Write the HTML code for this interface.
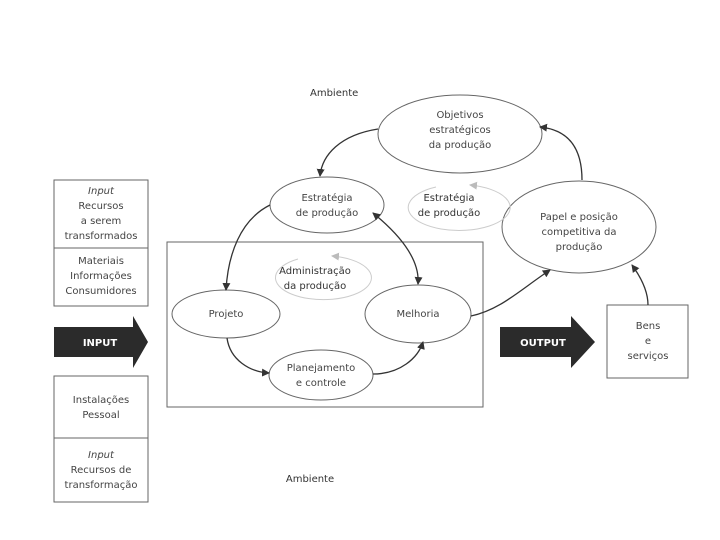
<!DOCTYPE html>
<html><head><meta charset="utf-8"><style>
html,body{margin:0;padding:0;background:#fff}
svg{display:block}
text{font-family:"DejaVu Sans","Liberation Sans",sans-serif;font-size:10px;fill:#444;text-anchor:middle}
</style></head><body>
<svg width="720" height="540" viewBox="0 0 720 540" xmlns="http://www.w3.org/2000/svg">
<defs>
<marker id="a" markerWidth="8" markerHeight="8" refX="7" refY="4" orient="auto" markerUnits="userSpaceOnUse"><path d="M0,0 L8,4 L0,8 z" fill="#333"/></marker>
<marker id="s" markerWidth="8" markerHeight="8" refX="1" refY="4" orient="auto" markerUnits="userSpaceOnUse"><path d="M8,0 L0,4 L8,8 z" fill="#333"/></marker>
<marker id="g" markerWidth="8" markerHeight="8" refX="7" refY="4" orient="auto" markerUnits="userSpaceOnUse"><path d="M0,0 L8,4 L0,8 z" fill="#bbb"/></marker>
</defs>
<g fill="none" stroke="#666" stroke-width="1">
<rect x="54" y="180" width="94" height="126"/><line x1="54" y1="248" x2="148" y2="248"/>
<rect x="54" y="376" width="94" height="126"/><line x1="54" y1="438" x2="148" y2="438"/>
<rect x="167" y="242" width="316" height="165"/>
<rect x="607" y="305" width="81" height="73"/>
<ellipse cx="460" cy="134" rx="82" ry="39"/>
<ellipse cx="327" cy="205" rx="57" ry="28"/>
<ellipse cx="579" cy="227" rx="77" ry="46"/>
<ellipse cx="226" cy="314" rx="54" ry="24"/>
<ellipse cx="418" cy="314" rx="53" ry="29"/>
<ellipse cx="321" cy="375" rx="52" ry="25"/>
</g>
<g fill="none" stroke="#ccc" stroke-width="1">
<path d="M436,187 A51,23 0 1 0 470,185" marker-end="url(#g)"/>
<path d="M298,259 A48,22 0 1 0 332,256" marker-end="url(#g)"/>
</g>
<g fill="none" stroke="#333" stroke-width="1.3">
<path d="M378,129 C340,135 322,155 320,176" marker-end="url(#a)"/>
<path d="M270,205 C240,220 228,255 226,290" marker-end="url(#a)"/>
<path d="M373,213 C400,235 420,260 418,284" marker-start="url(#s)" marker-end="url(#a)"/>
<path d="M227,338 C230,360 250,372 269,373" marker-end="url(#a)"/>
<path d="M373,374 C400,374 418,358 423,342" marker-end="url(#a)"/>
<path d="M471,316 C500,310 520,290 550,270" marker-end="url(#a)"/>
<path d="M582,180 C582,150 570,130 540,127" marker-end="url(#a)"/>
<path d="M648,305 C648,290 640,276 632,265" marker-end="url(#a)"/>
</g>
<path d="M54,327 H133 V316 L148,342 L133,368 V357 H54 z" fill="#2b2b2b"/>
<path d="M500,327 H571 V316 L595,342 L571,368 V357 H500 z" fill="#2b2b2b"/>
<text x="100" y="346" style="fill:#fff;font-weight:bold">INPUT</text>
<text x="543" y="346" style="fill:#fff;font-weight:bold">OUTPUT</text>
<text x="310" y="96" style="text-anchor:start;fill:#333" x2="0">Ambiente</text>
<text x="310" y="482" style="fill:#333">Ambiente</text>
<text x="101" y="194" style="font-style:italic">Input</text>
<text x="101" y="209">Recursos</text>
<text x="101" y="224">a serem</text>
<text x="101" y="239">transformados</text>
<text x="101" y="264">Materiais</text>
<text x="101" y="279">Informações</text>
<text x="101" y="294">Consumidores</text>
<text x="101" y="403">Instalações</text>
<text x="101" y="418">Pessoal</text>
<text x="101" y="458" style="font-style:italic">Input</text>
<text x="101" y="473">Recursos de</text>
<text x="101" y="488">transformação</text>
<text x="460" y="118">Objetivos</text>
<text x="460" y="133">estratégicos</text>
<text x="460" y="148">da produção</text>
<text x="327" y="201">Estratégia</text>
<text x="327" y="216">de produção</text>
<text x="449" y="201" style="fill:#333">Estratégia</text>
<text x="449" y="216" style="fill:#333">de produção</text>
<text x="579" y="220">Papel e posição</text>
<text x="579" y="235">competitiva da</text>
<text x="579" y="250">produção</text>
<text x="315" y="274" style="fill:#333">Administração</text>
<text x="315" y="289" style="fill:#333">da produção</text>
<text x="226" y="317">Projeto</text>
<text x="418" y="317">Melhoria</text>
<text x="321" y="371">Planejamento</text>
<text x="321" y="386">e controle</text>
<text x="648" y="329">Bens</text>
<text x="648" y="344">e</text>
<text x="648" y="359">serviços</text>
</svg>
</body></html>
